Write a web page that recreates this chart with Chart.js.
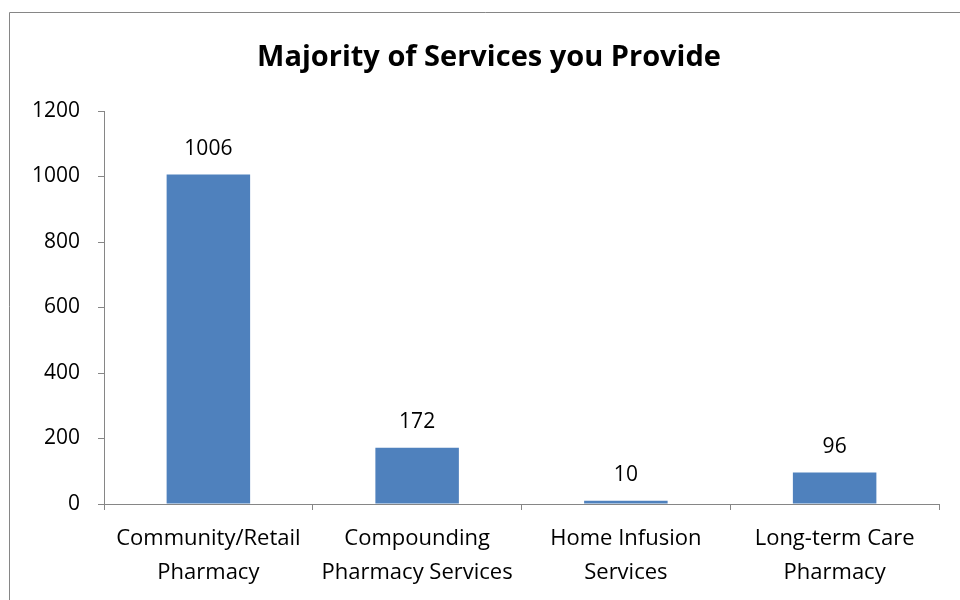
<!DOCTYPE html>
<html>
<head>
<meta charset="utf-8">
<script src="https://cdn.jsdelivr.net/npm/chart.js@4/dist/chart.umd.min.js"></script>
<style>
  html, body { margin: 0; padding: 0; background: #fff; }
  #wrap { width: 960px; height: 600px; position: relative; }
</style>
</head>
<body>
<div id="wrap"><canvas id="c" width="960" height="600"></canvas></div>
<script>
const chartTitle = "Majority of Services you Provide";
const categories = [
  ["Community/Retail", "Pharmacy"],
  ["Compounding", "Pharmacy Services"],
  ["Home Infusion", "Services"],
  ["Long-term Care", "Pharmacy"]
];
const values = [1006, 172, 10, 96];
const yTicks = [0, 200, 400, 600, 800, 1000, 1200];

const FONT = "'Open Sans', sans-serif";
const AXIS_GRAY = "#868686";

const framePlugin = {
  id: "frame",
  beforeDraw(chart) {
    const ctx = chart.ctx;
    ctx.save();
    ctx.fillStyle = "#fff";
    ctx.fillRect(0, 0, chart.width, chart.height);
    ctx.strokeStyle = AXIS_GRAY;
    ctx.lineWidth = 1;
    ctx.beginPath();
    ctx.moveTo(9.5, 610);
    ctx.lineTo(9.5, 12.5);
    ctx.lineTo(970, 12.5);
    ctx.stroke();
    ctx.restore();
  },
  afterDraw(chart) {
    const ctx = chart.ctx;
    ctx.save();
    ctx.fillStyle = "#000";
    ctx.font = "bold 29px " + FONT;
    ctx.textAlign = "center";
    ctx.textBaseline = "middle";
    ctx.fillText(chartTitle, 489, 58);
    ctx.font = "21px " + FONT;
    ctx.textBaseline = "middle";
    const meta = chart.getDatasetMeta(0);
    meta.data.forEach((bar, i) => {
      ctx.fillText(String(values[i]), bar.x, bar.y - 26);
    });
    ctx.restore();
  }
};

new Chart(document.getElementById("c"), {
  type: "bar",
  data: {
    labels: categories,
    datasets: [{
      data: values,
      backgroundColor: "#4F81BD",
      borderWidth: 0,
      barPercentage: 0.4,
      categoryPercentage: 1.0
    }]
  },
  options: {
    responsive: false,
    animation: false,
    devicePixelRatio: 1,
    layout: { padding: { left: 0, right: 21, top: 111, bottom: 0 } },
    plugins: {
      legend: { display: false },
      title: { display: false },
      tooltip: { enabled: false }
    },
    scales: {
      y: {
        min: 0,
        max: 1200,
        afterBuildTicks(scale) { scale.ticks = yTicks.map(v => ({ value: v })); },
        afterFit(scale) { scale.width = 104; },
        ticks: {
          font: { family: FONT, size: 21 },
          color: "#000",
          padding: 18,
          callback: (v) => String(v)
        },
        grid: {
          drawOnChartArea: false,
          drawTicks: true,
          tickLength: 6,
          color: AXIS_GRAY
        },
        border: { color: AXIS_GRAY, width: 1 }
      },
      x: {
        afterFit(scale) { scale.height = 96; },
        ticks: {
          font: { family: FONT, size: 22, lineHeight: 1.55 },
          color: "#000",
          padding: 12,
          maxRotation: 0,
          autoSkip: false
        },
        grid: {
          offset: true,
          drawOnChartArea: false,
          drawTicks: true,
          tickLength: 6,
          color: AXIS_GRAY
        },
        border: { color: AXIS_GRAY, width: 1 }
      }
    }
  },
  plugins: [framePlugin]
});
</script>
</body>
</html>
